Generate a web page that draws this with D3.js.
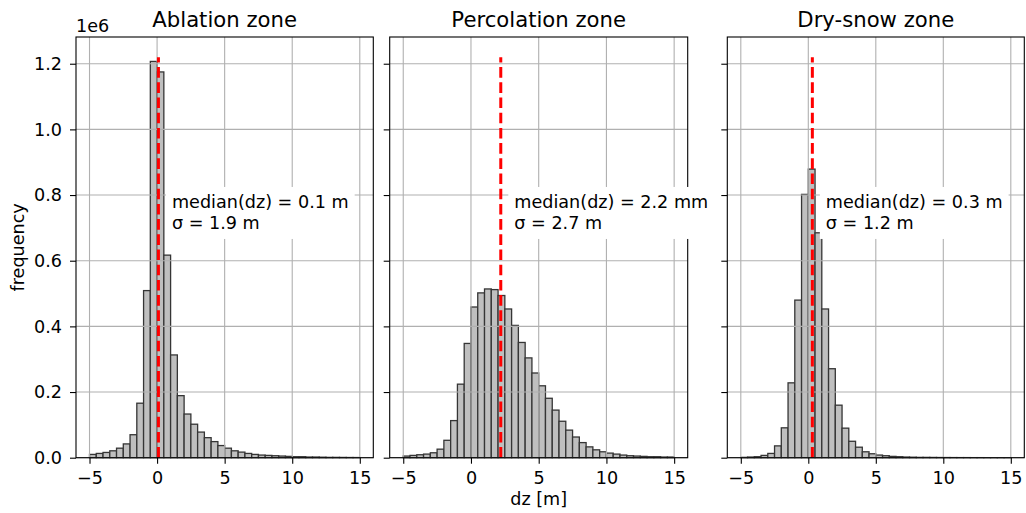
<!DOCTYPE html>
<html>
<head>
<meta charset="utf-8">
<script src="https://cdn.jsdelivr.net/npm/d3@7"></script>
<style>
  body { margin: 0; background: #fff; }
  svg { font-family: "DejaVu Sans", sans-serif; }
</style>
</head>
<body>
<div id="chart"></div>
<script>
// Panel titles and annotation values
const zones = ["Ablation zone", "Percolation zone", "Dry-snow zone"];
const medians = [0.1, 2.2, 0.3];
const medianLabels = ["median(dz) = 0.1 m", "median(dz) = 2.2 mm", "median(dz) = 0.3 m"];
const sigmaLabels = ["σ = 1.9 m", "σ = 2.7 m", "σ = 1.2 m"];

// Histogram bin lower edges (bin width 0.5 m)
const binStarts = [-5, -4.5, -4, -3.5, -3, -2.5, -2, -1.5, -1, -0.5,
  0, 0.5, 1, 1.5, 2, 2.5, 3, 3.5, 4, 4.5,
  5, 5.5, 6, 6.5, 7, 7.5, 8, 8.5, 9, 9.5,
  10, 10.5, 11, 11.5, 12, 12.5, 13, 13.5, 14, 14.5];
const binWidth = 0.5;

// Frequencies, in units of 1e6
const ablation = [0.010, 0.013, 0.016, 0.021, 0.029, 0.042, 0.070, 0.166, 0.509, 1.207,
  1.175, 0.617, 0.313, 0.189, 0.133, 0.102, 0.078, 0.061, 0.049, 0.037,
  0.029, 0.021, 0.017, 0.013, 0.010, 0.008, 0.007, 0.006, 0.005, 0.004,
  0.003, 0.003, 0.002, 0.002, 0.0015, 0.001, 0.001, 0.0008, 0.0006, 0.0005];
const percolation = [0.005, 0.007, 0.009, 0.011, 0.015, 0.026, 0.053, 0.113, 0.224, 0.348,
  0.459, 0.502, 0.514, 0.512, 0.494, 0.453, 0.403, 0.351, 0.304, 0.258,
  0.219, 0.181, 0.145, 0.111, 0.084, 0.063, 0.046, 0.033, 0.024, 0.018,
  0.014, 0.011, 0.008, 0.006, 0.005, 0.004, 0.003, 0.003, 0.002, 0.002];
const drySnow = [0.001, 0.002, 0.003, 0.007, 0.013, 0.036, 0.091, 0.228, 0.480, 0.802,
  0.879, 0.685, 0.453, 0.271, 0.160, 0.090, 0.050, 0.032, 0.018, 0.012,
  0.008, 0.006, 0.004, 0.003, 0.002, 0.0015, 0.001, 0.001, 0.0008, 0.0006,
  0.0005, 0.0004, 0.0003, 0.0003, 0.0002, 0.0002, 0.0001, 0.0001, 0.0001, 0.0001];
const series = [ablation, percolation, drySnow];

// Axis ticks
const xTicks = [-5, 0, 5, 10, 15];
const yTicks = [0, 0.2, 0.4, 0.6, 0.8, 1.0, 1.2];
const vlineTop = 1.22;

// Layout
const width = 1026;
const height = 513;
const panels = [{left: 76, right: 373.3}, {left: 389.7, right: 687.7}, {left: 727.3, right: 1024.3}];
const plotTop = 37;
const plotBottom = 457.7;
const fs = 17.6;

const svg = d3.select("#chart")
  .append("svg")
  .attr("width", width)
  .attr("height", height);

const yScale = d3.scaleLinear()
  .domain([0, 1.2814])
  .range([plotBottom, plotTop]);

const fmtMinus = v => (v < 0 ? "\u2212" + Math.abs(v) : "" + v);

const panelLayer = svg.append("g");
const boxLayer = svg.append("g");

panels.forEach(function(p, k) {
  const xScale = d3.scaleLinear()
    .domain([-6, 16])
    .range([p.left, p.right]);

  const g = panelLayer.append("g");

  // Bars (patches sit below the grid in matplotlib's default order)
  g.selectAll(".bar")
    .data(series[k])
    .enter()
    .append("rect")
      .attr("class", "bar")
      .attr("x", (d, i) => xScale(binStarts[i]))
      .attr("y", d => yScale(d))
      .attr("width", (d, i) => xScale(binStarts[i] + binWidth) - xScale(binStarts[i]))
      .attr("height", d => plotBottom - yScale(d))
      .attr("fill", "#bfbfbf")
      .attr("stroke", "#353535")
      .attr("stroke-width", 1.3);

  // Grid
  g.selectAll(".vgrid")
    .data(xTicks)
    .enter()
    .append("line")
      .attr("x1", d => xScale(d)).attr("x2", d => xScale(d))
      .attr("y1", plotTop).attr("y2", plotBottom)
      .attr("stroke", "#b0b0b0").attr("stroke-width", 1.1);
  g.selectAll(".hgrid")
    .data(yTicks)
    .enter()
    .append("line")
      .attr("x1", p.left).attr("x2", p.right)
      .attr("y1", d => yScale(d)).attr("y2", d => yScale(d))
      .attr("stroke", "#b0b0b0").attr("stroke-width", 1.1);

  // Median line, drawn from the bottom up so the dashes start at zero
  g.append("line")
    .attr("x1", xScale(medians[k])).attr("x2", xScale(medians[k]))
    .attr("y1", yScale(0)).attr("y2", yScale(vlineTop))
    .attr("stroke", "red")
    .attr("stroke-width", 3)
    .attr("stroke-dasharray", "10.6,4.6");

  // Axes
  const xAxis = g.append("g")
    .attr("transform", `translate(0,${plotBottom})`)
    .call(d3.axisBottom(xScale).tickValues(xTicks).tickFormat(fmtMinus).tickSize(6).tickPadding(7.5));
  xAxis.select(".domain").remove();
  xAxis.selectAll("line").attr("stroke-width", 1.1);
  xAxis.selectAll("text").attr("font-size", fs).attr("fill", "#000");
  xAxis.attr("font-family", null).attr("font-size", null);

  const yAxis = g.append("g")
    .attr("transform", `translate(${p.left},0)`)
    .call(d3.axisLeft(yScale).tickValues(yTicks).tickFormat(d => k === 0 ? d3.format(".1f")(d) : "").tickSize(6).tickPadding(8));
  yAxis.select(".domain").remove();
  yAxis.selectAll("line").attr("stroke-width", 1.1);
  yAxis.selectAll("text").attr("font-size", fs).attr("fill", "#000");
  yAxis.attr("font-family", null).attr("font-size", null);

  // Spines
  g.append("rect")
    .attr("x", p.left).attr("y", plotTop)
    .attr("width", p.right - p.left).attr("height", plotBottom - plotTop)
    .attr("fill", "none").attr("stroke", "#000").attr("stroke-width", 1.1);

  // Title
  g.append("text")
    .attr("x", (p.left + p.right) / 2)
    .attr("y", 26.5)
    .attr("text-anchor", "middle")
    .attr("font-size", 21.2)
    .text(zones[k]);

  // Annotation with white box
  const tx = xScale(medians[k] + 1);
  const yc = yScale(0.75) + 1;
  const ag = boxLayer.append("g");
  const rect = ag.append("rect").attr("fill", "#fff");
  const t1 = ag.append("text").attr("x", tx).attr("y", yc - 4).attr("font-size", fs).text(medianLabels[k]);
  const t2 = ag.append("text").attr("x", tx).attr("y", yc + 16.5).attr("font-size", fs).text(sigmaLabels[k]);
  const w = Math.max(t1.node().getComputedTextLength(), t2.node().getComputedTextLength());
  rect.attr("x", tx - 6).attr("y", yc - 25.5).attr("width", w + 12).attr("height", 52);
});

// Offset text and axis labels
svg.append("text")
  .attr("x", 76).attr("y", 32)
  .attr("font-size", fs)
  .text("1e6");

svg.append("text")
  .attr("transform", `translate(24,${(plotTop + plotBottom) / 2}) rotate(-90)`)
  .attr("text-anchor", "middle")
  .attr("font-size", fs)
  .text("frequency");

svg.append("text")
  .attr("x", (panels[1].left + panels[1].right) / 2)
  .attr("y", 504.5)
  .attr("text-anchor", "middle")
  .attr("font-size", fs)
  .text("dz [m]");
</script>
</body>
</html>
